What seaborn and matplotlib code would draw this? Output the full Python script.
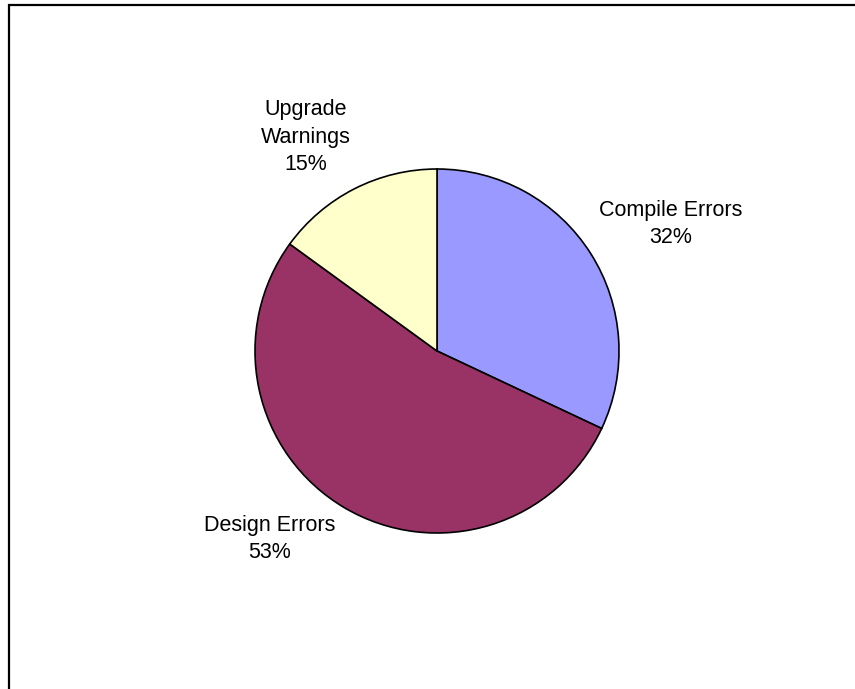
import matplotlib.pyplot as plt
from matplotlib.patches import Rectangle
import seaborn as sns

# share of issues by type, clockwise from 12 o'clock
categories = ["Compile Errors", "Design Errors", "Upgrade\nWarnings"]
shares = [32, 53, 15]
colors = ["#9999FF", "#993366", "#FFFFCC"]

# where the labels sit (pixels from top-left of the image)
label_pos = [(671, 224), (270, 539), (306, 137)]

sns.set_theme(style="white")
plt.rcParams['font.family'] = ['Liberation Sans', 'DejaVu Sans']

W, H = 855, 689
fig = plt.figure(figsize=(W / 100, H / 100), dpi=100)
fig.patch.set_facecolor("white")
ax = fig.add_axes([0, 0, 1, 1])

wedges, _ = ax.pie(shares, colors=colors, startangle=90, counterclock=False,
                   center=(437, H - 351), radius=182,
                   wedgeprops={"edgecolor": "black", "linewidth": 1.2})
ax.set_xlim(0, W)
ax.set_ylim(0, H)
ax.set_aspect("equal")
ax.axis("off")

for name, val, (px, py) in zip(categories, shares, label_pos):
    ax.text(px, H - py, f"{name}\n{val}%", ha="center", va="center",
            fontsize=15.5, color="black", linespacing=1.4)

# chart area border (only top and left edges fall inside the image)
fig.patches.append(Rectangle((8.5 / W, -0.5), 2, 1.5 - 5 / H, transform=fig.transFigure,
                             fill=False, edgecolor="black", linewidth=1.6, figure=fig))

fig.savefig("out.png", dpi=100, facecolor="white")
